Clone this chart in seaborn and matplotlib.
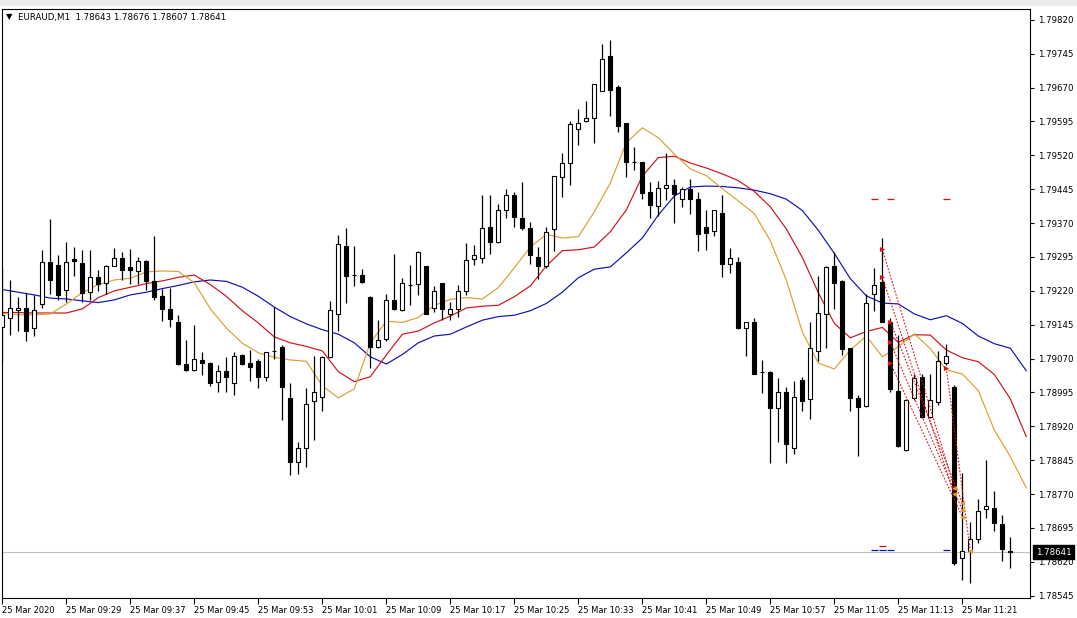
import numpy as np
import pandas as pd
import matplotlib
matplotlib.use("Agg")
import matplotlib.pyplot as plt
import matplotlib.transforms as mtransforms
from matplotlib.patches import Rectangle
import seaborn as sns

sns.set_theme(style="white")
plt.rcParams["font.family"] = ["DejaVu Sans"]

# --- data (EURAUD M1, 25 Mar 2020 09:21 - 11:27) ---
symbol_title = "EURAUD,M1  1.78643 1.78676 1.78607 1.78641"

opens = [1.79140, 1.79160, 1.79177, 1.79182, 1.79137, 1.79191, 1.79283, 1.79278, 1.79222, 1.79290,
         1.79282, 1.79217, 1.79251, 1.79237, 1.79275, 1.79292, 1.79273, 1.79264, 1.79286, 1.79242,
         1.79209, 1.79180, 1.79151, 1.79058, 1.79044, 1.79067, 1.79061, 1.79019, 1.79043, 1.79017,
         1.79078, 1.79061, 1.79065, 1.79029, 1.79086, 1.79096, 1.78982, 1.78841, 1.78873, 1.78976,
         1.78985, 1.79073, 1.79168, 1.79320, 1.79255, 1.79255, 1.79207, 1.79095, 1.79114, 1.79199,
         1.79177, 1.79233, 1.79235, 1.79275, 1.79181, 1.79237, 1.79168, 1.79180, 1.79219, 1.79290,
         1.79292, 1.79361, 1.79328, 1.79399, 1.79433, 1.79381, 1.79359, 1.79295, 1.79275, 1.79357,
         1.79473, 1.79503, 1.79579, 1.79595, 1.79602, 1.79663, 1.79740, 1.79672, 1.79591, 1.79506,
         1.79505, 1.79439, 1.79407, 1.79447, 1.79454, 1.79423, 1.79446, 1.79423, 1.79361, 1.79353,
         1.79392, 1.79280, 1.79284, 1.79137, 1.79152, 1.79041, 1.79041, 1.78960, 1.78996, 1.78872,
         1.79023, 1.78980, 1.79086, 1.79168, 1.79275, 1.79242, 1.79093, 1.78982, 1.78964, 1.79213,
         1.79240, 1.79150, 1.78999, 1.78867, 1.78982, 1.79029, 1.78940, 1.78975, 1.79061, 1.79008,
         1.78628, 1.78645, 1.78671, 1.78737, 1.78740, 1.78704, 1.78643]
highs = [1.79271, 1.79244, 1.79207, 1.79215, 1.79211, 1.79311, 1.79379, 1.79300, 1.79328, 1.79318,
         1.79311, 1.79311, 1.79266, 1.79278, 1.79315, 1.79305, 1.79312, 1.79295, 1.79289, 1.79342,
         1.79224, 1.79226, 1.79167, 1.79112, 1.79145, 1.79085, 1.79062, 1.79056, 1.79073, 1.79085,
         1.79080, 1.79088, 1.79070, 1.79085, 1.79185, 1.79101, 1.79016, 1.78885, 1.79005, 1.79076,
         1.79075, 1.79198, 1.79344, 1.79359, 1.79320, 1.79269, 1.79208, 1.79156, 1.79213, 1.79302,
         1.79248, 1.79278, 1.79309, 1.79276, 1.79231, 1.79238, 1.79196, 1.79233, 1.79326, 1.79322,
         1.79433, 1.79433, 1.79413, 1.79445, 1.79439, 1.79461, 1.79372, 1.79317, 1.79362, 1.79475,
         1.79525, 1.79595, 1.79623, 1.79641, 1.79678, 1.79767, 1.79776, 1.79676, 1.79592, 1.79538,
         1.79506, 1.79462, 1.79464, 1.79525, 1.79467, 1.79450, 1.79467, 1.79439, 1.79399, 1.79399,
         1.79433, 1.79315, 1.79295, 1.79151, 1.79160, 1.79067, 1.79042, 1.79028, 1.79007, 1.79021,
         1.79030, 1.79150, 1.79252, 1.79274, 1.79305, 1.79243, 1.79094, 1.78990, 1.79213, 1.79270,
         1.79337, 1.79160, 1.79123, 1.78980, 1.79036, 1.79036, 1.79036, 1.79086, 1.79103, 1.79012,
         1.78816, 1.78709, 1.78759, 1.78846, 1.78777, 1.78723, 1.78676]
lows = [1.79063, 1.79123, 1.79132, 1.79108, 1.79120, 1.79182, 1.79213, 1.79200, 1.79196, 1.79252,
        1.79196, 1.79200, 1.79219, 1.79213, 1.79274, 1.79243, 1.79235, 1.79235, 1.79221, 1.79199,
        1.79154, 1.79139, 1.79055, 1.79043, 1.79042, 1.79034, 1.79010, 1.78995, 1.78997, 1.78990,
        1.79055, 1.79021, 1.79006, 1.79021, 1.79069, 1.78933, 1.78812, 1.78815, 1.78831, 1.78889,
        1.78955, 1.79072, 1.79132, 1.79194, 1.79230, 1.79238, 1.79050, 1.79094, 1.79110, 1.79178,
        1.79176, 1.79189, 1.79211, 1.79168, 1.79174, 1.79156, 1.79156, 1.79163, 1.79210, 1.79277,
        1.79281, 1.79301, 1.79327, 1.79381, 1.79362, 1.79355, 1.79280, 1.79247, 1.79271, 1.79309,
        1.79428, 1.79455, 1.79543, 1.79594, 1.79547, 1.79662, 1.79608, 1.79571, 1.79473, 1.79488,
        1.79423, 1.79381, 1.79385, 1.79422, 1.79371, 1.79405, 1.79390, 1.79309, 1.79311, 1.79342,
        1.79250, 1.79259, 1.79136, 1.79075, 1.79035, 1.78994, 1.78839, 1.78886, 1.78839, 1.78859,
        1.78953, 1.78937, 1.79064, 1.79093, 1.79180, 1.79077, 1.78953, 1.78855, 1.78963, 1.79176,
        1.79151, 1.78995, 1.78875, 1.78866, 1.78979, 1.78939, 1.78939, 1.78968, 1.79056, 1.78613,
        1.78580, 1.78573, 1.78661, 1.78718, 1.78689, 1.78621, 1.78607]
closes = [1.79167, 1.79182, 1.79183, 1.79132, 1.79178, 1.79284, 1.79244, 1.79210, 1.79284, 1.79286,
          1.79216, 1.79250, 1.79236, 1.79275, 1.79292, 1.79267, 1.79267, 1.79286, 1.79241, 1.79207,
          1.79179, 1.79157, 1.79058, 1.79045, 1.79069, 1.79061, 1.79017, 1.79042, 1.79030, 1.79076,
          1.79058, 1.79052, 1.79030, 1.79084, 1.79086, 1.79008, 1.78841, 1.78872, 1.78969, 1.78996,
          1.79073, 1.79178, 1.79324, 1.79252, 1.79255, 1.79239, 1.79095, 1.79111, 1.79199, 1.79180,
          1.79237, 1.79233, 1.79306, 1.79169, 1.79219, 1.79180, 1.79180, 1.79219, 1.79289, 1.79299,
          1.79359, 1.79329, 1.79399, 1.79433, 1.79383, 1.79359, 1.79300, 1.79276, 1.79351, 1.79474,
          1.79503, 1.79590, 1.79591, 1.79602, 1.79677, 1.79733, 1.79665, 1.79585, 1.79506, 1.79506,
          1.79436, 1.79409, 1.79447, 1.79454, 1.79434, 1.79445, 1.79424, 1.79346, 1.79348, 1.79398,
          1.79279, 1.79292, 1.79137, 1.79150, 1.79036, 1.79041, 1.78960, 1.78996, 1.78881, 1.78986,
          1.78977, 1.79093, 1.79171, 1.79272, 1.79238, 1.79091, 1.78982, 1.78963, 1.79193, 1.79234,
          1.79152, 1.79002, 1.78877, 1.78979, 1.79027, 1.78940, 1.78978, 1.79064, 1.79076, 1.78617,
          1.78643, 1.78670, 1.78733, 1.78743, 1.78706, 1.78648, 1.78641]

# moving averages, read every second bar (they run two bars past the last candle)
ma_bars = list(range(0, 129, 2))
ma_slow = [1.79223, 1.79217, 1.79211, 1.79204, 1.79202, 1.79198, 1.79194, 1.79200, 1.79211, 1.79217,
           1.79225, 1.79232, 1.79240, 1.79244, 1.79241, 1.79228, 1.79208, 1.79184, 1.79163, 1.79147,
           1.79134, 1.79124, 1.79105, 1.79074, 1.79058, 1.79079, 1.79105, 1.79120, 1.79124, 1.79140,
           1.79155, 1.79163, 1.79166, 1.79176, 1.79192, 1.79217, 1.79249, 1.79268, 1.79273, 1.79304,
           1.79337, 1.79388, 1.79430, 1.79450, 1.79452, 1.79451, 1.79448, 1.79443, 1.79435, 1.79423,
           1.79398, 1.79354, 1.79303, 1.79247, 1.79209, 1.79193, 1.79191, 1.79169, 1.79156, 1.79165,
           1.79148, 1.79120, 1.79103, 1.79093, 1.79043]
ma_mid = [1.79172, 1.79172, 1.79171, 1.79171, 1.79171, 1.79180, 1.79205, 1.79220, 1.79228, 1.79236,
          1.79242, 1.79250, 1.79255, 1.79234, 1.79208, 1.79176, 1.79149, 1.79118, 1.79105, 1.79097,
          1.79087, 1.79041, 1.79019, 1.79030, 1.79078, 1.79124, 1.79131, 1.79149, 1.79164, 1.79182,
          1.79186, 1.79188, 1.79207, 1.79231, 1.79275, 1.79309, 1.79311, 1.79317, 1.79351, 1.79399,
          1.79474, 1.79515, 1.79518, 1.79503, 1.79492, 1.79479, 1.79464, 1.79440, 1.79406, 1.79357,
          1.79294, 1.79216, 1.79148, 1.79116, 1.79130, 1.79139, 1.79106, 1.79123, 1.79122, 1.79089,
          1.79072, 1.79063, 1.79035, 1.78981, 1.78897]
ma_fast = [1.79170, 1.79167, 1.79167, 1.79169, 1.79191, 1.79216, 1.79234, 1.79244, 1.79248, 1.79262,
           1.79264, 1.79263, 1.79238, 1.79180, 1.79138, 1.79104, 1.79083, 1.79073, 1.79067, 1.79064,
           1.79010, 1.78983, 1.79003, 1.79105, 1.79153, 1.79150, 1.79161, 1.79188, 1.79201, 1.79205,
           1.79202, 1.79227, 1.79271, 1.79317, 1.79345, 1.79337, 1.79340, 1.79395, 1.79459, 1.79548,
           1.79581, 1.79559, 1.79523, 1.79490, 1.79475, 1.79446, 1.79419, 1.79391, 1.79331, 1.79244,
           1.79129, 1.79060, 1.79047, 1.79089, 1.79120, 1.79074, 1.79096, 1.79125, 1.79092, 1.79045,
           1.79036, 1.78999, 1.78912, 1.78853, 1.78784]

x_tick_bars = [0, 8, 16, 24, 32, 40, 48, 56, 64, 72, 80, 88, 96, 104, 112, 120]
x_tick_labels = ["25 Mar 2020", "25 Mar 09:29", "25 Mar 09:37", "25 Mar 09:45", "25 Mar 09:53",
                 "25 Mar 10:01", "25 Mar 10:09", "25 Mar 10:17", "25 Mar 10:25", "25 Mar 10:33",
                 "25 Mar 10:41", "25 Mar 10:49", "25 Mar 10:57", "25 Mar 11:05", "25 Mar 11:13",
                 "25 Mar 11:21"]
y_ticks = [1.78545, 1.78620, 1.78695, 1.78770, 1.78845, 1.78920, 1.78995, 1.79070, 1.79145,
           1.79220, 1.79295, 1.79370, 1.79445, 1.79520, 1.79595, 1.79670, 1.79745, 1.79820]
current_price = 1.78641

# closed sell trades (history lines)
trade_open_bar = [110, 110, 111, 111, 111, 118]
trade_open_price = [1.79312, 1.79250, 1.79152, 1.79106, 1.79060, 1.79049]
trade_close_bar = [119, 119, 120, 120, 120, 121]
trade_close_price = [1.78784, 1.78770, 1.78751, 1.78735, 1.78720, 1.78643]

# stop / target level marks
sl_bars = [109, 111, 118]
sl_price = 1.79423
tp_bars = [109, 110, 111, 118]
tp_price = 1.78647
tp2_bars = [110]
tp2_price = 1.78656

# --- figure ---
W, H = 1077, 618
fig = plt.figure(figsize=(W / 100, H / 100), dpi=100)
fig.patches.append(Rectangle((0, 1 - 6 / H), 1, 6 / H, transform=fig.transFigure,
                             facecolor="#ececec", edgecolor="none"))
ax = fig.add_axes([2 / W, 20 / H, 1028 / W, 589 / H])
ax.set_facecolor("white")

df = pd.DataFrame({"open": opens, "high": highs, "low": lows, "close": closes})
df["bar"] = np.arange(len(df))
bull = df["close"] >= df["open"]

ax.axhline(current_price, color="#c0c0c0", lw=0.8, zorder=1)

sns.lineplot(x=ma_bars, y=ma_slow, color="#1010b4", lw=0.85, ax=ax, zorder=2)
sns.lineplot(x=ma_bars, y=ma_mid, color="#d41018", lw=0.85, ax=ax, zorder=2)
sns.lineplot(x=ma_bars, y=ma_fast, color="#d9a033", lw=0.85, ax=ax, zorder=2)

ax.vlines(df["bar"], df["low"], df["high"], color="black", lw=0.9, zorder=3)
ax.bar(df["bar"], (df["close"] - df["open"]).abs(),
       bottom=np.minimum(df["open"], df["close"]), width=0.5,
       color=np.where(bull, "white", "black"), edgecolor="black", linewidth=0.8, zorder=4)

for ob, op, cb, cp in zip(trade_open_bar, trade_open_price, trade_close_bar, trade_close_price):
    ax.plot([ob, cb], [op, cp], color="#e0101a", lw=0.8, ls=(0, (1.5, 1.5)), zorder=6)
ax.scatter(trade_open_bar, trade_open_price, marker=">", s=14, color="#e0101a", zorder=7, lw=0)
ax.scatter(trade_close_bar, trade_close_price, marker="<", s=12, color="#e8a020", zorder=7, lw=0)

for b in sl_bars:
    ax.hlines(sl_price, b - 0.4, b + 0.4, color="#d41018", lw=0.9, zorder=6)
for b in tp_bars:
    ax.hlines(tp_price, b - 0.4, b + 0.4, color="#1010b4", lw=0.9, zorder=6)
for b in tp2_bars:
    ax.hlines(tp2_price, b - 0.4, b + 0.4, color="#d41018", lw=0.9, zorder=6)

ax.set_xlim(-0.04, 128.46)
ax.set_ylim(1.78540, 1.79844)

ax.yaxis.tick_right()
ax.set_yticks(y_ticks)
ax.set_yticklabels([f"{v:.5f}" for v in y_ticks])
ax.set_xticks(x_tick_bars)
ax.set_xticklabels(x_tick_labels, ha="left")
ax.tick_params(axis="y", direction="out", length=3, width=0.8, pad=3, labelsize=6.2,
               colors="black", right=True, left=False)
ax.tick_params(axis="x", direction="out", length=4, width=0.8, pad=1.5, labelsize=6.0,
               colors="black", bottom=True)
ax.set_xlabel("")
ax.set_ylabel("")
for s in ax.spines.values():
    s.set_color("black")
    s.set_linewidth(0.8)

# current price tag on the price scale
tr = mtransforms.blended_transform_factory(ax.transAxes, ax.transData)
ax.text(1.0 + 6 / 1028, current_price, f"{current_price:.5f}", transform=tr,
        color="white", fontsize=6.2, va="center", ha="left", zorder=10, clip_on=False,
        bbox=dict(boxstyle="square,pad=0.3", fc="black", ec="black"))

# header
ax.text(4 / 1028, 1 - 8 / 589, "\u25bc", transform=ax.transAxes, fontsize=6,
        va="center", ha="left", color="black")
ax.text(16 / 1028, 1 - 8 / 589, symbol_title, transform=ax.transAxes, fontsize=6.2,
        va="center", ha="left", color="black")

fig.savefig("out.png", dpi=100)
